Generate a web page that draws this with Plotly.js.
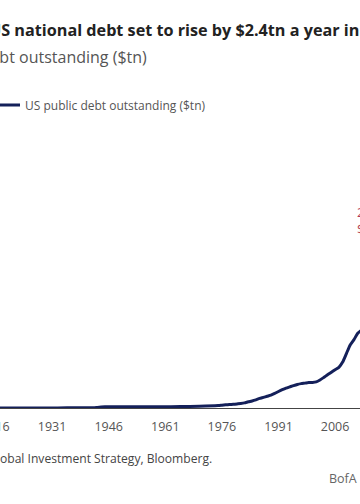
<!DOCTYPE html>
<html>
<head>
<meta charset="utf-8">
<script src="https://cdn.plot.ly/plotly-3.0.1.min.js"></script>
<style>
html,body{margin:0;padding:0;background:#fff;overflow:hidden;width:360px;height:504px;}
#chart{position:absolute;left:-20px;top:0;width:380px;height:504px;}
</style>
</head>
<body>
<div id="chart"></div>
<script>
// US public debt outstanding ($tn)
const years = [1916,1917,1918,1919,1920,1925,1930,1935,1940,1941,1942,1943,1944,1945,1946,1950,1955,1960,1965,1970,1975,1976,1977,1978,1979,1980,1981,1982,1983,1984,1985,1986,1987,1988,1989,1990,1991,1992,1993,1994,1995,1996,1997,1998,1999,2000,2001,2002,2003,2004,2005,2006,2007,2008,2009,2010,2011,2012,2013,2014,2015,2016,2017,2018,2019,2020,2021,2022,2023];
const debt = [0.003,0.003,0.012,0.025,0.024,0.021,0.016,0.029,0.043,0.049,0.072,0.137,0.201,0.259,0.269,0.257,0.274,0.286,0.317,0.371,0.533,0.62,0.699,0.772,0.827,0.908,0.998,1.142,1.377,1.572,1.823,2.125,2.35,2.602,2.857,3.233,3.665,4.065,4.411,4.693,4.974,5.225,5.413,5.526,5.656,5.674,5.807,6.228,6.783,7.379,7.933,8.507,9.008,10.2,12.1,14.0,15.2,16.6,17.3,18.1,18.9,19.9,20.5,21.9,23.2,27.7,29.6,31.4,34.0];
const tickYears = [1916,1931,1946,1961,1976,1991,2006,2021];
const tickLabels = ['1916','1931','1946','1961','1976','1991','2006','2021'];
const seriesName = 'US public debt outstanding ($tn)';
const titleText = 'US national debt set to rise by $2.4tn a year in next decade';
const subtitleText = 'US debt outstanding ($tn)';
const sourceText = 'Source: BofA Global Investment Strategy, Bloomberg.';
const brandText = 'BofA GLOBAL RESEARCH';
const calloutText = '2034:<br>$54tn';

// figure is 380 px wide, shifted 20 px left of the 360 px window (reference is a crop)
const OFF = 20, W = 380, H = 504, plotTop = 120, plotBottom = 408;
const py = p => (plotBottom - p) / (plotBottom - plotTop);
const px = p => (p + OFF) / W;
const FONT = '"Open Sans", "Noto Sans", sans-serif';

const trace = {
  x: years, y: debt, type: 'scatter', mode: 'lines', name: seriesName,
  line: {color: '#14205a', width: 3, shape: 'spline', smoothing: 0.6},
  showlegend: true, hoverinfo: 'skip'
};

const layout = {
  width: W, height: H,
  margin: {l: 0, r: 0, t: plotTop, b: H - plotBottom, pad: 0, autoexpand: false},
  paper_bgcolor: '#fff', plot_bgcolor: '#fff',
  font: {family: FONT, color: '#444'},
  xaxis: {
    range: [1911.9, 2012.6], showgrid: false, zeroline: false,
    showline: true, linecolor: '#444', linewidth: 1.2,
    tickmode: 'array', tickvals: tickYears, ticktext: tickLabels,
    ticks: '', tickfont: {size: 12.5, color: '#555'}, ticklabelstandoff: 7
  },
  yaxis: {range: [0, 64], visible: false, showgrid: false, zeroline: false},
  showlegend: true,
  legend: {
    x: px(0), xanchor: 'left', y: 1 + 15/288, yanchor: 'middle', indentation: -15,
    font: {size: 12, color: '#555'}, bgcolor: 'rgba(0,0,0,0)', itemwidth: 30
  },
  annotations: [
    {text: '<b>' + titleText + '</b>', xref: 'paper', yref: 'paper', x: px(-13), y: py(30), xanchor: 'left', align: 'left', yanchor: 'middle', showarrow: false, font: {size: 16.2, color: '#222'}},
    {text: subtitleText, xref: 'paper', yref: 'paper', x: px(149), y: py(57), xanchor: 'right', align: 'right', yanchor: 'middle', showarrow: false, font: {size: 16, color: '#555'}},
    {text: sourceText, xref: 'paper', yref: 'paper', x: px(214), y: py(458), xanchor: 'right', align: 'right', yanchor: 'middle', showarrow: false, font: {size: 12.1, color: '#444'}},
    {text: brandText, xref: 'paper', yref: 'paper', x: px(327), y: py(478), xanchor: 'left', align: 'left', yanchor: 'middle', showarrow: false, font: {size: 12.5, color: '#666'}},
    {text: calloutText, xref: 'paper', yref: 'paper', x: px(355), y: py(220), xanchor: 'left', yanchor: 'middle', align: 'left', showarrow: false, font: {size: 13, color: '#b03a55'}}
  ]
};

Plotly.newPlot('chart', [trace], layout, {displayModeBar: false, staticPlot: true});
</script>
</body>
</html>
